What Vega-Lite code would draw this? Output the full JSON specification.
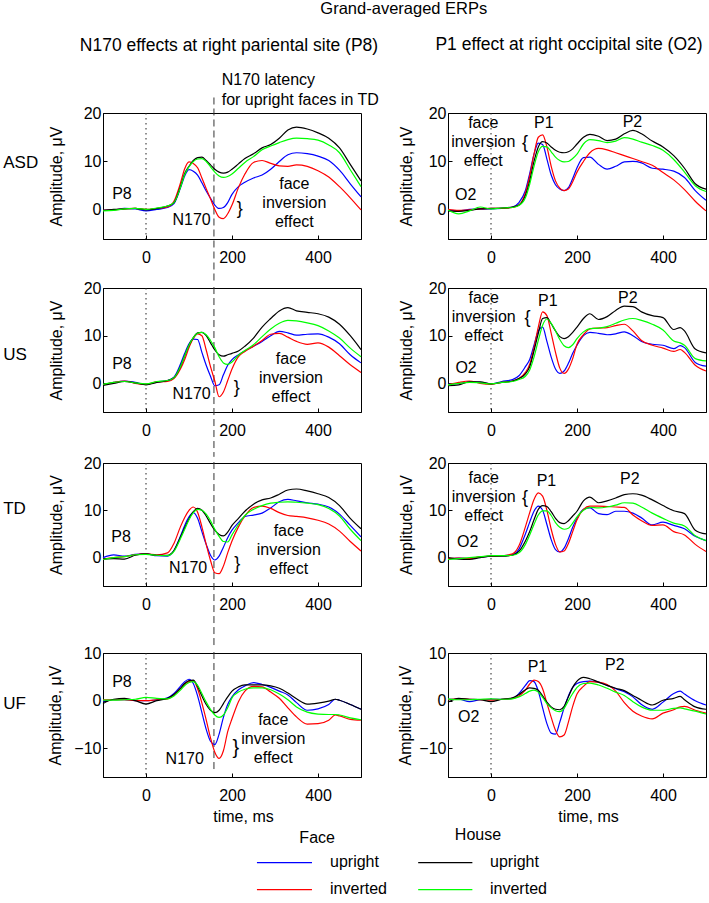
{
"$schema": "https://vega.github.io/schema/vega-lite/v6.json",
"padding": {"left": 2, "top": 0, "right": 0, "bottom": 0},
"background": "white",
"title": {"text": "Grand-averaged ERPs", "fontSize": 16.5, "anchor": "middle", "dx": 48, "offset": 18},
"datasets": {"erp": [
{"p":"ASDL","t":-100,"fu":-0.1,"fi":-0.1,"hu":-0.1,"hi":-0.2},
{"p":"ASDL","t":-75,"fu":0.0,"fi":0.0,"hu":0.1,"hi":-0.1},
{"p":"ASDL","t":-50,"fu":0.3,"fi":0.2,"hu":0.2,"hi":0.2},
{"p":"ASDL","t":-25,"fu":0.2,"fi":0.3,"hu":0.3,"hi":0.3},
{"p":"ASDL","t":0,"fu":-0.2,"fi":0.1,"hu":0.0,"hi":0.1},
{"p":"ASDL","t":25,"fu":0.1,"fi":0.3,"hu":0.3,"hi":0.4},
{"p":"ASDL","t":50,"fu":0.5,"fi":0.6,"hu":0.8,"hi":0.8},
{"p":"ASDL","t":65,"fu":1.3,"fi":1.8,"hu":1.5,"hi":1.5},
{"p":"ASDL","t":80,"fu":4.5,"fi":5.5,"hu":4.8,"hi":4.6},
{"p":"ASDL","t":90,"fu":7.0,"fi":8.5,"hu":7.5,"hi":7.3},
{"p":"ASDL","t":100,"fu":8.3,"fi":9.9,"hu":9.0,"hi":8.9},
{"p":"ASDL","t":110,"fu":8.0,"fi":9.6,"hu":10.2,"hi":10.0},
{"p":"ASDL","t":120,"fu":7.2,"fi":8.7,"hu":10.8,"hi":10.5},
{"p":"ASDL","t":130,"fu":5.6,"fi":6.6,"hu":10.9,"hi":10.6},
{"p":"ASDL","t":140,"fu":3.9,"fi":4.4,"hu":10.2,"hi":10.0},
{"p":"ASDL","t":150,"fu":2.4,"fi":2.3,"hu":9.3,"hi":8.9},
{"p":"ASDL","t":160,"fu":1.0,"fi":0.1,"hu":8.4,"hi":7.8},
{"p":"ASDL","t":170,"fu":0.3,"fi":-1.5,"hu":7.8,"hi":7.0},
{"p":"ASDL","t":180,"fu":0.5,"fi":-1.8,"hu":7.6,"hi":6.7},
{"p":"ASDL","t":190,"fu":1.5,"fi":-0.8,"hu":7.8,"hi":6.9},
{"p":"ASDL","t":200,"fu":3.2,"fi":1.0,"hu":8.4,"hi":7.4},
{"p":"ASDL","t":215,"fu":4.8,"fi":4.6,"hu":9.5,"hi":8.6},
{"p":"ASDL","t":230,"fu":5.7,"fi":7.4,"hu":10.6,"hi":9.8},
{"p":"ASDL","t":250,"fu":6.6,"fi":9.8,"hu":11.6,"hi":11.0},
{"p":"ASDL","t":270,"fu":7.2,"fi":10.2,"hu":12.8,"hi":12.4},
{"p":"ASDL","t":290,"fu":8.4,"fi":9.6,"hu":13.5,"hi":13.2},
{"p":"ASDL","t":310,"fu":10.0,"fi":9.1,"hu":14.8,"hi":13.9},
{"p":"ASDL","t":330,"fu":11.4,"fi":9.0,"hu":16.5,"hi":14.5},
{"p":"ASDL","t":350,"fu":11.8,"fi":9.3,"hu":17.1,"hi":14.8},
{"p":"ASDL","t":375,"fu":11.6,"fi":9.0,"hu":16.7,"hi":14.7},
{"p":"ASDL","t":400,"fu":11.1,"fi":8.1,"hu":15.9,"hi":14.4},
{"p":"ASDL","t":425,"fu":10.2,"fi":6.8,"hu":14.8,"hi":13.4},
{"p":"ASDL","t":450,"fu":8.2,"fi":4.8,"hu":12.8,"hi":11.8},
{"p":"ASDL","t":475,"fu":5.4,"fi":2.5,"hu":9.4,"hi":8.3},
{"p":"ASDL","t":500,"fu":2.7,"fi":0.0,"hu":6.0,"hi":4.8},
{"p":"ASDR","t":-100,"fu":0.0,"fi":0.1,"hu":-0.2,"hi":0.0},
{"p":"ASDR","t":-75,"fu":-0.2,"fi":-0.1,"hu":-0.3,"hi":-0.8},
{"p":"ASDR","t":-50,"fu":0.1,"fi":0.0,"hu":-0.1,"hi":-0.2},
{"p":"ASDR","t":-25,"fu":0.2,"fi":0.2,"hu":0.2,"hi":0.6},
{"p":"ASDR","t":0,"fu":0.2,"fi":0.3,"hu":0.3,"hi":0.2},
{"p":"ASDR","t":25,"fu":0.3,"fi":0.3,"hu":0.4,"hi":0.4},
{"p":"ASDR","t":50,"fu":0.6,"fi":0.5,"hu":0.6,"hi":0.5},
{"p":"ASDR","t":65,"fu":1.5,"fi":1.0,"hu":1.0,"hi":0.9},
{"p":"ASDR","t":80,"fu":4.0,"fi":3.5,"hu":3.0,"hi":2.5},
{"p":"ASDR","t":90,"fu":7.5,"fi":7.0,"hu":6.0,"hi":5.3},
{"p":"ASDR","t":100,"fu":11.5,"fi":11.5,"hu":10.0,"hi":9.0},
{"p":"ASDR","t":110,"fu":13.8,"fi":15.0,"hu":13.0,"hi":12.0},
{"p":"ASDR","t":120,"fu":13.5,"fi":15.5,"hu":14.1,"hi":13.1},
{"p":"ASDR","t":130,"fu":10.5,"fi":13.0,"hu":13.8,"hi":13.0},
{"p":"ASDR","t":140,"fu":7.2,"fi":9.0,"hu":13.0,"hi":12.0},
{"p":"ASDR","t":150,"fu":5.2,"fi":6.0,"hu":12.3,"hi":10.9},
{"p":"ASDR","t":160,"fu":4.3,"fi":4.5,"hu":11.9,"hi":10.2},
{"p":"ASDR","t":170,"fu":4.0,"fi":4.0,"hu":11.8,"hi":9.9},
{"p":"ASDR","t":180,"fu":4.6,"fi":4.3,"hu":12.0,"hi":10.0},
{"p":"ASDR","t":190,"fu":6.5,"fi":5.8,"hu":12.6,"hi":10.6},
{"p":"ASDR","t":200,"fu":8.7,"fi":7.8,"hu":13.6,"hi":11.5},
{"p":"ASDR","t":215,"fu":10.8,"fi":10.0,"hu":15.0,"hi":13.6},
{"p":"ASDR","t":230,"fu":10.9,"fi":11.8,"hu":15.6,"hi":14.5},
{"p":"ASDR","t":250,"fu":9.4,"fi":12.7,"hu":15.2,"hi":14.3},
{"p":"ASDR","t":270,"fu":8.4,"fi":12.4,"hu":14.3,"hi":13.9},
{"p":"ASDR","t":290,"fu":9.0,"fi":11.8,"hu":14.6,"hi":14.2},
{"p":"ASDR","t":310,"fu":9.9,"fi":11.2,"hu":15.7,"hi":14.9},
{"p":"ASDR","t":330,"fu":10.0,"fi":10.6,"hu":16.4,"hi":14.6},
{"p":"ASDR","t":350,"fu":9.7,"fi":10.0,"hu":15.7,"hi":14.0},
{"p":"ASDR","t":375,"fu":8.6,"fi":9.2,"hu":14.2,"hi":13.3},
{"p":"ASDR","t":400,"fu":8.4,"fi":7.7,"hu":13.0,"hi":12.3},
{"p":"ASDR","t":425,"fu":8.0,"fi":6.2,"hu":11.2,"hi":10.4},
{"p":"ASDR","t":450,"fu":6.7,"fi":4.2,"hu":8.6,"hi":7.8},
{"p":"ASDR","t":475,"fu":4.0,"fi":1.8,"hu":5.4,"hi":5.0},
{"p":"ASDR","t":500,"fu":2.0,"fi":-0.2,"hu":4.3,"hi":3.8},
{"p":"USL","t":-100,"fu":-0.3,"fi":-0.3,"hu":-0.4,"hi":-0.2},
{"p":"USL","t":-75,"fu":0.2,"fi":0.2,"hu":0.0,"hi":0.2},
{"p":"USL","t":-50,"fu":0.5,"fi":0.5,"hu":0.4,"hi":0.4},
{"p":"USL","t":-25,"fu":0.2,"fi":0.0,"hu":0.1,"hi":0.1},
{"p":"USL","t":0,"fu":-0.2,"fi":-0.2,"hu":-0.3,"hi":-0.1},
{"p":"USL","t":25,"fu":0.3,"fi":0.3,"hu":0.2,"hi":0.4},
{"p":"USL","t":50,"fu":0.6,"fi":0.4,"hu":0.6,"hi":0.6},
{"p":"USL","t":65,"fu":1.3,"fi":1.0,"hu":1.2,"hi":1.2},
{"p":"USL","t":80,"fu":4.0,"fi":3.0,"hu":3.5,"hi":3.5},
{"p":"USL","t":90,"fu":6.3,"fi":5.0,"hu":5.8,"hi":5.8},
{"p":"USL","t":100,"fu":8.3,"fi":7.5,"hu":8.0,"hi":8.0},
{"p":"USL","t":110,"fu":9.3,"fi":9.4,"hu":9.6,"hi":9.6},
{"p":"USL","t":120,"fu":9.2,"fi":10.4,"hu":10.6,"hi":10.5},
{"p":"USL","t":130,"fu":6.5,"fi":10.0,"hu":10.7,"hi":10.7},
{"p":"USL","t":140,"fu":3.8,"fi":7.0,"hu":10.0,"hi":10.2},
{"p":"USL","t":150,"fu":1.5,"fi":3.5,"hu":8.5,"hi":9.0},
{"p":"USL","t":160,"fu":-0.5,"fi":0.5,"hu":7.0,"hi":7.5},
{"p":"USL","t":170,"fu":-0.3,"fi":-2.8,"hu":6.0,"hi":5.6},
{"p":"USL","t":180,"fu":1.8,"fi":-1.8,"hu":5.7,"hi":4.3},
{"p":"USL","t":190,"fu":3.8,"fi":0.6,"hu":6.0,"hi":4.0},
{"p":"USL","t":200,"fu":5.0,"fi":3.0,"hu":6.3,"hi":4.5},
{"p":"USL","t":215,"fu":6.0,"fi":5.6,"hu":6.8,"hi":5.9},
{"p":"USL","t":230,"fu":6.8,"fi":6.7,"hu":7.8,"hi":6.9},
{"p":"USL","t":250,"fu":7.8,"fi":7.8,"hu":9.5,"hi":8.1},
{"p":"USL","t":270,"fu":8.8,"fi":9.0,"hu":11.8,"hi":9.8},
{"p":"USL","t":290,"fu":10.0,"fi":10.3,"hu":13.6,"hi":11.4},
{"p":"USL","t":310,"fu":10.9,"fi":10.5,"hu":15.2,"hi":12.6},
{"p":"USL","t":330,"fu":10.6,"fi":9.7,"hu":15.9,"hi":13.2},
{"p":"USL","t":350,"fu":10.1,"fi":8.8,"hu":15.2,"hi":13.1},
{"p":"USL","t":375,"fu":10.3,"fi":8.2,"hu":14.9,"hi":12.7},
{"p":"USL","t":400,"fu":10.4,"fi":8.5,"hu":14.6,"hi":12.1},
{"p":"USL","t":425,"fu":9.7,"fi":7.6,"hu":13.9,"hi":11.0},
{"p":"USL","t":450,"fu":8.3,"fi":5.8,"hu":12.4,"hi":9.5},
{"p":"USL","t":475,"fu":6.0,"fi":3.9,"hu":10.0,"hi":7.4},
{"p":"USL","t":500,"fu":4.3,"fi":2.3,"hu":7.1,"hi":5.6},
{"p":"USR","t":-100,"fu":-0.2,"fi":-0.3,"hu":-0.5,"hi":-0.3},
{"p":"USR","t":-75,"fu":0.0,"fi":0.2,"hu":-0.3,"hi":0.0},
{"p":"USR","t":-50,"fu":0.3,"fi":0.5,"hu":0.3,"hi":0.2},
{"p":"USR","t":-25,"fu":0.2,"fi":0.0,"hu":0.3,"hi":0.1},
{"p":"USR","t":0,"fu":-0.1,"fi":-0.2,"hu":-0.1,"hi":-0.1},
{"p":"USR","t":25,"fu":0.4,"fi":0.2,"hu":0.2,"hi":0.2},
{"p":"USR","t":50,"fu":0.8,"fi":0.5,"hu":0.5,"hi":0.4},
{"p":"USR","t":65,"fu":1.6,"fi":1.0,"hu":1.0,"hi":0.8},
{"p":"USR","t":80,"fu":3.5,"fi":2.3,"hu":2.0,"hi":1.5},
{"p":"USR","t":90,"fu":5.0,"fi":4.0,"hu":3.5,"hi":2.8},
{"p":"USR","t":100,"fu":8.0,"fi":7.5,"hu":6.8,"hi":5.5},
{"p":"USR","t":110,"fu":11.0,"fi":11.8,"hu":10.5,"hi":9.0},
{"p":"USR","t":120,"fu":11.8,"fi":15.0,"hu":13.6,"hi":12.2},
{"p":"USR","t":130,"fu":8.8,"fi":14.2,"hu":13.8,"hi":13.5},
{"p":"USR","t":140,"fu":5.5,"fi":10.5,"hu":12.5,"hi":12.6},
{"p":"USR","t":150,"fu":3.0,"fi":6.5,"hu":11.0,"hi":11.0},
{"p":"USR","t":160,"fu":2.1,"fi":3.2,"hu":9.8,"hi":9.2},
{"p":"USR","t":170,"fu":2.6,"fi":2.1,"hu":9.4,"hi":7.9},
{"p":"USR","t":180,"fu":4.2,"fi":3.0,"hu":9.8,"hi":7.5},
{"p":"USR","t":190,"fu":6.3,"fi":5.2,"hu":10.7,"hi":8.1},
{"p":"USR","t":200,"fu":8.0,"fi":8.2,"hu":11.8,"hi":9.4},
{"p":"USR","t":215,"fu":10.0,"fi":10.2,"hu":13.6,"hi":10.8},
{"p":"USR","t":230,"fu":10.7,"fi":11.4,"hu":14.6,"hi":11.5},
{"p":"USR","t":250,"fu":10.5,"fi":11.6,"hu":13.4,"hi":11.6},
{"p":"USR","t":270,"fu":10.2,"fi":11.7,"hu":14.0,"hi":11.9},
{"p":"USR","t":290,"fu":10.4,"fi":12.1,"hu":15.3,"hi":12.6},
{"p":"USR","t":310,"fu":10.8,"fi":12.4,"hu":16.2,"hi":13.3},
{"p":"USR","t":330,"fu":10.0,"fi":11.0,"hu":16.1,"hi":13.6},
{"p":"USR","t":350,"fu":8.8,"fi":9.0,"hu":15.0,"hi":13.2},
{"p":"USR","t":375,"fu":8.2,"fi":8.0,"hu":14.2,"hi":12.4},
{"p":"USR","t":400,"fu":8.0,"fi":7.4,"hu":13.8,"hi":11.2},
{"p":"USR","t":425,"fu":7.3,"fi":6.7,"hu":11.3,"hi":8.9},
{"p":"USR","t":440,"fu":7.9,"fi":7.1,"hu":11.7,"hi":8.5},
{"p":"USR","t":450,"fu":7.5,"fi":6.5,"hu":11.0,"hi":8.0},
{"p":"USR","t":475,"fu":4.4,"fi":3.8,"hu":7.2,"hi":5.2},
{"p":"USR","t":500,"fu":3.6,"fi":2.6,"hu":6.4,"hi":4.7},
{"p":"TDL","t":-100,"fu":0.0,"fi":-0.3,"hu":-0.3,"hi":-0.4},
{"p":"TDL","t":-75,"fu":0.6,"fi":0.0,"hu":-0.2,"hi":0.0},
{"p":"TDL","t":-50,"fu":0.3,"fi":0.2,"hu":-0.3,"hi":0.2},
{"p":"TDL","t":-25,"fu":0.7,"fi":0.6,"hu":0.5,"hi":0.6},
{"p":"TDL","t":0,"fu":0.8,"fi":0.8,"hu":0.8,"hi":0.7},
{"p":"TDL","t":25,"fu":0.4,"fi":0.6,"hu":0.5,"hi":0.5},
{"p":"TDL","t":50,"fu":0.3,"fi":1.0,"hu":0.5,"hi":0.4},
{"p":"TDL","t":65,"fu":1.5,"fi":3.0,"hu":1.5,"hi":1.3},
{"p":"TDL","t":80,"fu":4.5,"fi":6.5,"hu":4.3,"hi":4.0},
{"p":"TDL","t":90,"fu":6.8,"fi":8.5,"hu":6.3,"hi":6.0},
{"p":"TDL","t":100,"fu":8.6,"fi":10.0,"hu":8.2,"hi":8.0},
{"p":"TDL","t":110,"fu":9.5,"fi":10.7,"hu":9.7,"hi":9.5},
{"p":"TDL","t":120,"fu":8.3,"fi":9.6,"hu":10.4,"hi":10.2},
{"p":"TDL","t":130,"fu":5.5,"fi":6.5,"hu":10.0,"hi":10.0},
{"p":"TDL","t":140,"fu":2.8,"fi":2.8,"hu":8.8,"hi":9.2},
{"p":"TDL","t":150,"fu":0.5,"fi":-0.6,"hu":7.2,"hi":7.8},
{"p":"TDL","t":160,"fu":-0.5,"fi":-3.2,"hu":5.8,"hi":6.0},
{"p":"TDL","t":170,"fu":0.3,"fi":-3.4,"hu":4.9,"hi":4.5},
{"p":"TDL","t":180,"fu":2.2,"fi":-1.8,"hu":4.6,"hi":3.4},
{"p":"TDL","t":190,"fu":4.2,"fi":1.0,"hu":5.4,"hi":3.3},
{"p":"TDL","t":200,"fu":5.8,"fi":3.5,"hu":6.8,"hi":4.8},
{"p":"TDL","t":215,"fu":7.4,"fi":6.5,"hu":8.3,"hi":7.0},
{"p":"TDL","t":230,"fu":8.7,"fi":8.8,"hu":9.8,"hi":8.9},
{"p":"TDL","t":250,"fu":9.0,"fi":10.6,"hu":11.3,"hi":10.2},
{"p":"TDL","t":270,"fu":9.4,"fi":10.9,"hu":12.2,"hi":11.0},
{"p":"TDL","t":290,"fu":10.5,"fi":10.4,"hu":12.6,"hi":11.5},
{"p":"TDL","t":310,"fu":11.8,"fi":9.5,"hu":13.4,"hi":11.7},
{"p":"TDL","t":330,"fu":12.3,"fi":8.9,"hu":14.3,"hi":11.8},
{"p":"TDL","t":350,"fu":12.0,"fi":8.7,"hu":14.5,"hi":11.7},
{"p":"TDL","t":375,"fu":11.6,"fi":8.4,"hu":14.1,"hi":11.5},
{"p":"TDL","t":400,"fu":11.3,"fi":7.9,"hu":13.5,"hi":11.2},
{"p":"TDL","t":425,"fu":10.7,"fi":7.1,"hu":12.7,"hi":10.4},
{"p":"TDL","t":450,"fu":9.2,"fi":5.6,"hu":11.0,"hi":8.8},
{"p":"TDL","t":475,"fu":6.8,"fi":3.4,"hu":8.3,"hi":6.0},
{"p":"TDL","t":500,"fu":4.4,"fi":1.4,"hu":6.1,"hi":3.6},
{"p":"TDR","t":-100,"fu":-0.3,"fi":-0.2,"hu":0.0,"hi":-0.4},
{"p":"TDR","t":-75,"fu":-0.1,"fi":-0.1,"hu":-0.3,"hi":-0.2},
{"p":"TDR","t":-50,"fu":-0.2,"fi":-0.2,"hu":-0.4,"hi":0.0},
{"p":"TDR","t":-25,"fu":0.1,"fi":0.2,"hu":0.0,"hi":0.2},
{"p":"TDR","t":0,"fu":0.3,"fi":0.3,"hu":0.3,"hi":0.4},
{"p":"TDR","t":25,"fu":0.4,"fi":0.4,"hu":0.3,"hi":0.4},
{"p":"TDR","t":50,"fu":0.6,"fi":0.8,"hu":0.5,"hi":0.5},
{"p":"TDR","t":65,"fu":1.8,"fi":2.5,"hu":1.3,"hi":1.0},
{"p":"TDR","t":80,"fu":5.0,"fi":6.5,"hu":3.5,"hi":2.8},
{"p":"TDR","t":90,"fu":7.5,"fi":9.5,"hu":5.5,"hi":4.8},
{"p":"TDR","t":100,"fu":9.8,"fi":12.3,"hu":8.0,"hi":7.0},
{"p":"TDR","t":110,"fu":10.9,"fi":13.7,"hu":10.2,"hi":9.0},
{"p":"TDR","t":120,"fu":10.0,"fi":13.0,"hu":11.0,"hi":9.9},
{"p":"TDR","t":130,"fu":7.0,"fi":10.0,"hu":10.8,"hi":9.9},
{"p":"TDR","t":140,"fu":3.8,"fi":6.0,"hu":9.7,"hi":8.9},
{"p":"TDR","t":150,"fu":1.7,"fi":2.8,"hu":8.3,"hi":7.4},
{"p":"TDR","t":160,"fu":1.2,"fi":1.2,"hu":7.4,"hi":6.4},
{"p":"TDR","t":170,"fu":2.0,"fi":1.4,"hu":7.2,"hi":6.0},
{"p":"TDR","t":180,"fu":4.0,"fi":3.0,"hu":7.8,"hi":6.2},
{"p":"TDR","t":190,"fu":6.4,"fi":5.5,"hu":8.8,"hi":7.3},
{"p":"TDR","t":200,"fu":8.3,"fi":8.0,"hu":9.8,"hi":8.6},
{"p":"TDR","t":215,"fu":10.2,"fi":10.2,"hu":12.0,"hi":10.0},
{"p":"TDR","t":230,"fu":10.5,"fi":10.9,"hu":12.8,"hi":10.6},
{"p":"TDR","t":250,"fu":9.3,"fi":10.9,"hu":11.6,"hi":10.5},
{"p":"TDR","t":270,"fu":9.1,"fi":10.8,"hu":12.0,"hi":10.7},
{"p":"TDR","t":290,"fu":9.8,"fi":10.7,"hu":12.6,"hi":11.1},
{"p":"TDR","t":310,"fu":9.8,"fi":10.6,"hu":13.3,"hi":11.6},
{"p":"TDR","t":330,"fu":9.4,"fi":9.0,"hu":13.5,"hi":11.5},
{"p":"TDR","t":350,"fu":8.4,"fi":7.8,"hu":13.2,"hi":10.7},
{"p":"TDR","t":375,"fu":6.9,"fi":6.8,"hu":12.2,"hi":9.4},
{"p":"TDR","t":400,"fu":7.5,"fi":6.9,"hu":11.0,"hi":8.3},
{"p":"TDR","t":425,"fu":6.8,"fi":5.5,"hu":9.9,"hi":7.3},
{"p":"TDR","t":450,"fu":6.1,"fi":4.8,"hu":9.3,"hi":6.7},
{"p":"TDR","t":475,"fu":4.5,"fi":2.8,"hu":5.8,"hi":4.6},
{"p":"TDR","t":500,"fu":3.6,"fi":1.3,"hu":5.0,"hi":3.6},
{"p":"UFL","t":-100,"fu":-0.1,"fi":0.2,"hu":-0.6,"hi":0.1},
{"p":"UFL","t":-75,"fu":0.2,"fi":0.2,"hu":0.3,"hi":0.1},
{"p":"UFL","t":-50,"fu":0.2,"fi":0.2,"hu":0.5,"hi":0.2},
{"p":"UFL","t":-25,"fu":0.0,"fi":0.0,"hu":0.0,"hi":0.3},
{"p":"UFL","t":0,"fu":0.0,"fi":0.0,"hu":-0.7,"hi":0.7},
{"p":"UFL","t":25,"fu":0.2,"fi":0.2,"hu":0.0,"hi":0.5},
{"p":"UFL","t":50,"fu":0.6,"fi":0.4,"hu":0.5,"hi":0.4},
{"p":"UFL","t":65,"fu":1.5,"fi":1.2,"hu":1.3,"hi":1.0},
{"p":"UFL","t":80,"fu":3.0,"fi":2.5,"hu":2.6,"hi":2.2},
{"p":"UFL","t":90,"fu":4.0,"fi":3.5,"hu":3.6,"hi":3.2},
{"p":"UFL","t":100,"fu":4.5,"fi":4.0,"hu":4.2,"hi":3.8},
{"p":"UFL","t":110,"fu":3.6,"fi":4.2,"hu":4.3,"hi":4.0},
{"p":"UFL","t":120,"fu":1.0,"fi":2.5,"hu":3.0,"hi":3.2},
{"p":"UFL","t":130,"fu":-2.5,"fi":-0.5,"hu":1.0,"hi":1.5},
{"p":"UFL","t":140,"fu":-6.0,"fi":-4.0,"hu":-0.8,"hi":-0.3},
{"p":"UFL","t":150,"fu":-8.5,"fi":-7.8,"hu":-2.0,"hi":-1.8},
{"p":"UFL","t":160,"fu":-9.2,"fi":-10.8,"hu":-2.5,"hi":-3.0},
{"p":"UFL","t":170,"fu":-7.0,"fi":-12.1,"hu":-2.0,"hi":-3.5},
{"p":"UFL","t":180,"fu":-3.5,"fi":-10.5,"hu":-0.6,"hi":-3.0},
{"p":"UFL","t":190,"fu":-0.8,"fi":-6.5,"hu":0.8,"hi":-1.5},
{"p":"UFL","t":200,"fu":0.8,"fi":-3.8,"hu":2.0,"hi":0.6},
{"p":"UFL","t":215,"fu":2.3,"fi":-0.2,"hu":2.9,"hi":1.8},
{"p":"UFL","t":230,"fu":3.1,"fi":2.0,"hu":3.3,"hi":2.4},
{"p":"UFL","t":250,"fu":3.8,"fi":3.0,"hu":3.3,"hi":2.7},
{"p":"UFL","t":270,"fu":3.4,"fi":2.9,"hu":3.3,"hi":2.7},
{"p":"UFL","t":290,"fu":2.8,"fi":1.8,"hu":3.1,"hi":2.3},
{"p":"UFL","t":310,"fu":2.0,"fi":0.5,"hu":2.6,"hi":1.4},
{"p":"UFL","t":330,"fu":1.2,"fi":-1.5,"hu":1.6,"hi":0.2},
{"p":"UFL","t":350,"fu":-0.4,"fi":-3.4,"hu":0.4,"hi":-1.3},
{"p":"UFL","t":375,"fu":-2.0,"fi":-4.9,"hu":-0.7,"hi":-2.4},
{"p":"UFL","t":400,"fu":-1.7,"fi":-4.8,"hu":-0.5,"hi":-2.8},
{"p":"UFL","t":425,"fu":-0.8,"fi":-4.1,"hu":-0.1,"hi":-2.9},
{"p":"UFL","t":440,"fu":0.3,"fi":-3.0,"hu":0.3,"hi":-2.9},
{"p":"UFL","t":450,"fu":0.1,"fi":-3.2,"hu":0.1,"hi":-3.0},
{"p":"UFL","t":475,"fu":-0.8,"fi":-3.9,"hu":-0.8,"hi":-3.6},
{"p":"UFL","t":500,"fu":-1.8,"fi":-4.1,"hu":-1.8,"hi":-4.0},
{"p":"UFR","t":-100,"fu":0.3,"fi":0.2,"hu":-0.3,"hi":0.4},
{"p":"UFR","t":-75,"fu":0.3,"fi":0.4,"hu":0.5,"hi":0.2},
{"p":"UFR","t":-50,"fu":-0.2,"fi":0.3,"hu":0.3,"hi":0.2},
{"p":"UFR","t":-25,"fu":0.2,"fi":0.2,"hu":0.2,"hi":0.3},
{"p":"UFR","t":0,"fu":0.3,"fi":0.1,"hu":-0.2,"hi":0.4},
{"p":"UFR","t":25,"fu":0.3,"fi":0.3,"hu":0.3,"hi":0.3},
{"p":"UFR","t":50,"fu":0.5,"fi":0.5,"hu":0.6,"hi":0.4},
{"p":"UFR","t":65,"fu":1.5,"fi":1.0,"hu":1.3,"hi":0.8},
{"p":"UFR","t":80,"fu":3.2,"fi":2.2,"hu":2.3,"hi":1.5},
{"p":"UFR","t":90,"fu":4.2,"fi":3.5,"hu":2.7,"hi":2.0},
{"p":"UFR","t":100,"fu":4.0,"fi":4.3,"hu":2.6,"hi":2.2},
{"p":"UFR","t":110,"fu":2.0,"fi":4.0,"hu":2.2,"hi":1.8},
{"p":"UFR","t":120,"fu":-1.5,"fi":2.5,"hu":1.0,"hi":0.7},
{"p":"UFR","t":130,"fu":-4.8,"fi":-0.5,"hu":-0.3,"hi":-0.6},
{"p":"UFR","t":140,"fu":-6.8,"fi":-3.5,"hu":-1.3,"hi":-1.5},
{"p":"UFR","t":150,"fu":-7.0,"fi":-6.2,"hu":-1.8,"hi":-2.1},
{"p":"UFR","t":160,"fu":-4.5,"fi":-7.6,"hu":-1.9,"hi":-2.3},
{"p":"UFR","t":170,"fu":-1.5,"fi":-7.2,"hu":-1.2,"hi":-1.6},
{"p":"UFR","t":180,"fu":1.0,"fi":-4.5,"hu":0.8,"hi":0.0},
{"p":"UFR","t":190,"fu":2.8,"fi":-1.2,"hu":2.8,"hi":1.5},
{"p":"UFR","t":200,"fu":3.6,"fi":1.4,"hu":4.1,"hi":2.8},
{"p":"UFR","t":215,"fu":4.0,"fi":3.0,"hu":4.9,"hi":3.6},
{"p":"UFR","t":230,"fu":4.1,"fi":4.0,"hu":4.6,"hi":3.7},
{"p":"UFR","t":250,"fu":3.9,"fi":3.9,"hu":3.9,"hi":3.3},
{"p":"UFR","t":270,"fu":3.2,"fi":3.4,"hu":3.2,"hi":2.6},
{"p":"UFR","t":290,"fu":2.5,"fi":2.0,"hu":2.6,"hi":1.8},
{"p":"UFR","t":310,"fu":1.9,"fi":-0.4,"hu":2.1,"hi":1.1},
{"p":"UFR","t":330,"fu":0.8,"fi":-2.2,"hu":1.1,"hi":-0.2},
{"p":"UFR","t":350,"fu":-0.8,"fi":-3.2,"hu":0.1,"hi":-1.3},
{"p":"UFR","t":375,"fu":-1.8,"fi":-3.8,"hu":-0.9,"hi":-2.0},
{"p":"UFR","t":400,"fu":-0.3,"fi":-2.6,"hu":0.1,"hi":-2.0},
{"p":"UFR","t":425,"fu":1.5,"fi":-1.9,"hu":0.5,"hi":-1.6},
{"p":"UFR","t":440,"fu":2.0,"fi":-1.3,"hu":0.9,"hi":-1.5},
{"p":"UFR","t":450,"fu":1.4,"fi":-1.2,"hu":0.2,"hi":-1.7},
{"p":"UFR","t":475,"fu":0.0,"fi":-2.0,"hu":-1.3,"hi":-2.2},
{"p":"UFR","t":500,"fu":-0.9,"fi":-2.6,"hu":-1.8,"hi":-2.8}
]},
"columns": 2,
"spacing": {"row": 10, "column": 87},
"bounds": "flush",
"align": "each",
"concat": [
{"width": 258, "height": 126,
 "title": {"text": "N170 effects at right pariental site (P8)", "fontSize": 17.5, "frame": "group", "offset": 18, "dx": -3},
 "layer": [
  {"data": {"values": [{}]}, "mark": {"type": "rule", "strokeDash": [1.5, 3.5], "color": "#222"}, "encoding": {"x": {"datum": 0}}},
  {"data": {"values": [{}]}, "mark": {"type": "rule", "strokeDash": [7, 4], "color": "#333"}, "encoding": {"x": {"datum": 158}, "y": {"datum": 23.2}, "y2": {"datum": -14.8}}},
  {"data": {"name": "erp"}, "transform": [{"filter": "datum.p === 'ASDL'"}, {"fold": ["fu", "fi", "hu", "hi"], "as": ["s", "v"]}],
   "mark": {"type": "line", "strokeWidth": 1.2, "interpolate": "monotone"},
   "encoding": {
    "x": {"field": "t", "type": "quantitative", "scale": {"domain": [-100, 500]}, "axis": {"values": [0, 200, 400], "title": null}},
    "y": {"field": "v", "type": "quantitative", "scale": {"domain": [-5, 20]}, "axis": {"values": [0, 10, 20], "title": "Amplitude, μV", "titlePadding": 19}},
    "color": {"field": "s", "type": "nominal", "scale": {"domain": ["fu", "fi", "hu", "hi"], "range": ["#0000ff", "#ff0000", "#000000", "#00ff00"]}, "legend": null}}},
  {"data": {"values": [{}]}, "mark": {"type": "text", "text": "ASD", "align": "left", "fontSize": 17}, "encoding": {"x": {"datum": -332}, "y": {"datum": 9.7}}},
  {"data": {"values": [{}]}, "mark": {"type": "text", "text": "P8"}, "encoding": {"x": {"datum": -56}, "y": {"datum": 3.3}}},
  {"data": {"values": [{}]}, "mark": {"type": "text", "text": "N170"}, "encoding": {"x": {"datum": 106}, "y": {"datum": -2.0}}},
  {"data": {"values": [{}]}, "mark": {"type": "text", "text": "}", "fontSize": 18}, "encoding": {"x": {"datum": 218}, "y": {"datum": 0.1}}},
  {"data": {"values": [{}]}, "mark": {"type": "text", "text": ["face", "inversion", "effect"], "lineHeight": 19}, "encoding": {"x": {"datum": 345}, "y": {"datum": 5.3}}},
  {"data": {"values": [{}]}, "mark": {"type": "text", "text": ["N170 latency", "for upright faces in TD"], "lineHeight": 20, "align": "left"}, "encoding": {"x": {"datum": 176}, "y": {"datum": 26.8}}}
 ]},
{"width": 258, "height": 126,
 "title": {"text": "P1 effect at right occipital site (O2)", "fontSize": 17.5, "frame": "group", "offset": 52, "dx": -8},
 "layer": [
  {"data": {"values": [{}]}, "mark": {"type": "rule", "strokeDash": [1.5, 3.5], "color": "#222"}, "encoding": {"x": {"datum": 0}}},
  {"data": {"name": "erp"}, "transform": [{"filter": "datum.p === 'ASDR'"}, {"fold": ["fu", "fi", "hu", "hi"], "as": ["s", "v"]}],
   "mark": {"type": "line", "strokeWidth": 1.2, "interpolate": "monotone"},
   "encoding": {
    "x": {"field": "t", "type": "quantitative", "scale": {"domain": [-100, 500]}, "axis": {"values": [0, 200, 400], "title": null}},
    "y": {"field": "v", "type": "quantitative", "scale": {"domain": [-5, 20]}, "axis": {"values": [0, 10, 20], "title": "Amplitude, μV", "titlePadding": 14}},
    "color": {"field": "s", "type": "nominal", "scale": {"domain": ["fu", "fi", "hu", "hi"], "range": ["#0000ff", "#ff0000", "#000000", "#00ff00"]}, "legend": null}}},
  {"data": {"values": [{}]}, "mark": {"type": "text", "text": ["face", "inversion", "effect"], "lineHeight": 19}, "encoding": {"x": {"datum": -18}, "y": {"datum": 17.9}}},
  {"data": {"values": [{}]}, "mark": {"type": "text", "text": "{", "fontSize": 18}, "encoding": {"x": {"datum": 79}, "y": {"datum": 13.9}}},
  {"data": {"values": [{}]}, "mark": {"type": "text", "text": "P1"}, "encoding": {"x": {"datum": 123}, "y": {"datum": 17.9}}},
  {"data": {"values": [{}]}, "mark": {"type": "text", "text": "P2"}, "encoding": {"x": {"datum": 329}, "y": {"datum": 18.1}}},
  {"data": {"values": [{}]}, "mark": {"type": "text", "text": "O2"}, "encoding": {"x": {"datum": -59}, "y": {"datum": 3.1}}}
 ]},
{"width": 1, "height": 29, "data": {"values": [{}]}, "mark": {"type": "text", "text": ""}, "view": {"stroke": null}},
{"width": 1, "height": 29, "data": {"values": [{}]}, "mark": {"type": "text", "text": ""}, "view": {"stroke": null}},
{"width": 258, "height": 124,
 "layer": [
  {"data": {"values": [{}]}, "mark": {"type": "rule", "strokeDash": [1.5, 3.5], "color": "#222"}, "encoding": {"x": {"datum": 0}}},
  {"data": {"values": [{}]}, "mark": {"type": "rule", "strokeDash": [7, 4], "color": "#333"}, "encoding": {"x": {"datum": 158}, "y": {"datum": 20.2}, "y2": {"datum": -15.4}}},
  {"data": {"name": "erp"}, "transform": [{"filter": "datum.p === 'USL'"}, {"fold": ["fu", "fi", "hu", "hi"], "as": ["s", "v"]}],
   "mark": {"type": "line", "strokeWidth": 1.2, "interpolate": "monotone"},
   "encoding": {
    "x": {"field": "t", "type": "quantitative", "scale": {"domain": [-100, 500]}, "axis": {"values": [0, 200, 400], "title": null}},
    "y": {"field": "v", "type": "quantitative", "scale": {"domain": [-5, 20]}, "axis": {"values": [0, 10, 20], "title": "Amplitude, μV", "titlePadding": 19}},
    "color": {"field": "s", "type": "nominal", "scale": {"domain": ["fu", "fi", "hu", "hi"], "range": ["#0000ff", "#ff0000", "#000000", "#00ff00"]}, "legend": null}}},
  {"data": {"values": [{}]}, "mark": {"type": "text", "text": "US", "align": "left", "fontSize": 17}, "encoding": {"x": {"datum": -332}, "y": {"datum": 5.9}}},
  {"data": {"values": [{}]}, "mark": {"type": "text", "text": "P8"}, "encoding": {"x": {"datum": -56}, "y": {"datum": 4.0}}},
  {"data": {"values": [{}]}, "mark": {"type": "text", "text": "N170"}, "encoding": {"x": {"datum": 106}, "y": {"datum": -2.2}}},
  {"data": {"values": [{}]}, "mark": {"type": "text", "text": "}", "fontSize": 18}, "encoding": {"x": {"datum": 211}, "y": {"datum": -0.9}}},
  {"data": {"values": [{}]}, "mark": {"type": "text", "text": ["face", "inversion", "effect"], "lineHeight": 19}, "encoding": {"x": {"datum": 337}, "y": {"datum": 5.1}}}
 ]},
{"width": 258, "height": 124,
 "layer": [
  {"data": {"values": [{}]}, "mark": {"type": "rule", "strokeDash": [1.5, 3.5], "color": "#222"}, "encoding": {"x": {"datum": 0}}},
  {"data": {"name": "erp"}, "transform": [{"filter": "datum.p === 'USR'"}, {"fold": ["fu", "fi", "hu", "hi"], "as": ["s", "v"]}],
   "mark": {"type": "line", "strokeWidth": 1.2, "interpolate": "monotone"},
   "encoding": {
    "x": {"field": "t", "type": "quantitative", "scale": {"domain": [-100, 500]}, "axis": {"values": [0, 200, 400], "title": null}},
    "y": {"field": "v", "type": "quantitative", "scale": {"domain": [-5, 20]}, "axis": {"values": [0, 10, 20], "title": "Amplitude, μV", "titlePadding": 14}},
    "color": {"field": "s", "type": "nominal", "scale": {"domain": ["fu", "fi", "hu", "hi"], "range": ["#0000ff", "#ff0000", "#000000", "#00ff00"]}, "legend": null}}},
  {"data": {"values": [{}]}, "mark": {"type": "text", "text": ["face", "inversion", "effect"], "lineHeight": 19}, "encoding": {"x": {"datum": -17}, "y": {"datum": 17.9}}},
  {"data": {"values": [{}]}, "mark": {"type": "text", "text": "{", "fontSize": 18}, "encoding": {"x": {"datum": 85}, "y": {"datum": 13.8}}},
  {"data": {"values": [{}]}, "mark": {"type": "text", "text": "P1"}, "encoding": {"x": {"datum": 132}, "y": {"datum": 17.2}}},
  {"data": {"values": [{}]}, "mark": {"type": "text", "text": "P2"}, "encoding": {"x": {"datum": 318}, "y": {"datum": 18.0}}},
  {"data": {"values": [{}]}, "mark": {"type": "text", "text": "O2"}, "encoding": {"x": {"datum": -58}, "y": {"datum": 3.3}}}
 ]},
{"width": 1, "height": 31, "data": {"values": [{}]}, "mark": {"type": "text", "text": ""}, "view": {"stroke": null}},
{"width": 1, "height": 31, "data": {"values": [{}]}, "mark": {"type": "text", "text": ""}, "view": {"stroke": null}},
{"width": 258, "height": 123,
 "layer": [
  {"data": {"values": [{}]}, "mark": {"type": "rule", "strokeDash": [1.5, 3.5], "color": "#222"}, "encoding": {"x": {"datum": 0}}},
  {"data": {"values": [{}]}, "mark": {"type": "rule", "strokeDash": [7, 4], "color": "#333"}, "encoding": {"x": {"datum": 158}, "y": {"datum": 20.2}, "y2": {"datum": -18.7}}},
  {"data": {"name": "erp"}, "transform": [{"filter": "datum.p === 'TDL'"}, {"fold": ["fu", "fi", "hu", "hi"], "as": ["s", "v"]}],
   "mark": {"type": "line", "strokeWidth": 1.2, "interpolate": "monotone"},
   "encoding": {
    "x": {"field": "t", "type": "quantitative", "scale": {"domain": [-100, 500]}, "axis": {"values": [0, 200, 400], "title": null}},
    "y": {"field": "v", "type": "quantitative", "scale": {"domain": [-5, 20]}, "axis": {"values": [0, 10, 20], "title": "Amplitude, μV", "titlePadding": 19}},
    "color": {"field": "s", "type": "nominal", "scale": {"domain": ["fu", "fi", "hu", "hi"], "range": ["#0000ff", "#ff0000", "#000000", "#00ff00"]}, "legend": null}}},
  {"data": {"values": [{}]}, "mark": {"type": "text", "text": "TD", "align": "left", "fontSize": 17}, "encoding": {"x": {"datum": -332}, "y": {"datum": 10.2}}},
  {"data": {"values": [{}]}, "mark": {"type": "text", "text": "P8"}, "encoding": {"x": {"datum": -58}, "y": {"datum": 4.3}}},
  {"data": {"values": [{}]}, "mark": {"type": "text", "text": "N170"}, "encoding": {"x": {"datum": 98}, "y": {"datum": -2.2}}},
  {"data": {"values": [{}]}, "mark": {"type": "text", "text": "}", "fontSize": 18}, "encoding": {"x": {"datum": 212}, "y": {"datum": -1.3}}},
  {"data": {"values": [{}]}, "mark": {"type": "text", "text": ["face", "inversion", "effect"], "lineHeight": 19}, "encoding": {"x": {"datum": 332}, "y": {"datum": 5.6}}}
 ]},
{"width": 258, "height": 123,
 "layer": [
  {"data": {"values": [{}]}, "mark": {"type": "rule", "strokeDash": [1.5, 3.5], "color": "#222"}, "encoding": {"x": {"datum": 0}}},
  {"data": {"name": "erp"}, "transform": [{"filter": "datum.p === 'TDR'"}, {"fold": ["fu", "fi", "hu", "hi"], "as": ["s", "v"]}],
   "mark": {"type": "line", "strokeWidth": 1.2, "interpolate": "monotone"},
   "encoding": {
    "x": {"field": "t", "type": "quantitative", "scale": {"domain": [-100, 500]}, "axis": {"values": [0, 200, 400], "title": null}},
    "y": {"field": "v", "type": "quantitative", "scale": {"domain": [-5, 20]}, "axis": {"values": [0, 10, 20], "title": "Amplitude, μV", "titlePadding": 14}},
    "color": {"field": "s", "type": "nominal", "scale": {"domain": ["fu", "fi", "hu", "hi"], "range": ["#0000ff", "#ff0000", "#000000", "#00ff00"]}, "legend": null}}},
  {"data": {"values": [{}]}, "mark": {"type": "text", "text": ["face", "inversion", "effect"], "lineHeight": 19}, "encoding": {"x": {"datum": -17}, "y": {"datum": 16.8}}},
  {"data": {"values": [{}]}, "mark": {"type": "text", "text": "{", "fontSize": 18}, "encoding": {"x": {"datum": 79}, "y": {"datum": 12.6}}},
  {"data": {"values": [{}]}, "mark": {"type": "text", "text": "P1"}, "encoding": {"x": {"datum": 129}, "y": {"datum": 16.1}}},
  {"data": {"values": [{}]}, "mark": {"type": "text", "text": "P2"}, "encoding": {"x": {"datum": 323}, "y": {"datum": 16.6}}},
  {"data": {"values": [{}]}, "mark": {"type": "text", "text": "O2"}, "encoding": {"x": {"datum": -54}, "y": {"datum": 3.2}}}
 ]},
{"width": 1, "height": 47, "data": {"values": [{}]}, "mark": {"type": "text", "text": ""}, "view": {"stroke": null}},
{"width": 1, "height": 47, "data": {"values": [{}]}, "mark": {"type": "text", "text": ""}, "view": {"stroke": null}},
{"width": 258, "height": 124,
 "layer": [
  {"data": {"values": [{}]}, "mark": {"type": "rule", "strokeDash": [1.5, 3.5], "color": "#222"}, "encoding": {"x": {"datum": 0}}},
  {"data": {"values": [{}]}, "mark": {"type": "rule", "strokeDash": [7, 4], "color": "#333"}, "encoding": {"x": {"datum": 158}, "y": {"datum": 10.2}, "y2": {"datum": -15}}},
  {"data": {"name": "erp"}, "transform": [{"filter": "datum.p === 'UFL'"}, {"fold": ["fu", "fi", "hu", "hi"], "as": ["s", "v"]}],
   "mark": {"type": "line", "strokeWidth": 1.2, "interpolate": "monotone"},
   "encoding": {
    "x": {"field": "t", "type": "quantitative", "scale": {"domain": [-100, 500]}, "axis": {"values": [0, 200, 400], "title": "time, ms", "titleX": 140}},
    "y": {"field": "v", "type": "quantitative", "scale": {"domain": [-15, 10]}, "axis": {"values": [-10, 0, 10], "title": "Amplitude, μV", "titlePadding": 10.6}},
    "color": {"field": "s", "type": "nominal", "scale": {"domain": ["fu", "fi", "hu", "hi"], "range": ["#0000ff", "#ff0000", "#000000", "#00ff00"]}, "legend": null}}},
  {"data": {"values": [{}]}, "mark": {"type": "text", "text": "UF", "align": "left", "fontSize": 17}, "encoding": {"x": {"datum": -332}, "y": {"datum": -0.7}}},
  {"data": {"values": [{}]}, "mark": {"type": "text", "text": "P8"}, "encoding": {"x": {"datum": -56}, "y": {"datum": 3.9}}},
  {"data": {"values": [{}]}, "mark": {"type": "text", "text": "N170"}, "encoding": {"x": {"datum": 90}, "y": {"datum": -12.2}}},
  {"data": {"values": [{}]}, "mark": {"type": "text", "text": "}", "fontSize": 20}, "encoding": {"x": {"datum": 209}, "y": {"datum": -10}}},
  {"data": {"values": [{}]}, "mark": {"type": "text", "text": ["face", "inversion", "effect"], "lineHeight": 19}, "encoding": {"x": {"datum": 296}, "y": {"datum": -4.1}}},
  {"data": {"values": [{}]}, "mark": {"type": "rule", "color": "#0000ff", "strokeWidth": 1.2}, "encoding": {"x": {"datum": 258}, "x2": {"datum": 386}, "y": {"datum": -33.95}}},
  {"data": {"values": [{}]}, "mark": {"type": "rule", "color": "#ff0000", "strokeWidth": 1.2}, "encoding": {"x": {"datum": 258}, "x2": {"datum": 386}, "y": {"datum": -39.6}}},
  {"data": {"values": [{}]}, "mark": {"type": "rule", "color": "#000000", "strokeWidth": 1.2}, "encoding": {"x": {"datum": 633}, "x2": {"datum": 759}, "y": {"datum": -33.95}}},
  {"data": {"values": [{}]}, "mark": {"type": "rule", "color": "#00ff00", "strokeWidth": 1.2}, "encoding": {"x": {"datum": 633}, "x2": {"datum": 759}, "y": {"datum": -39.6}}},
  {"data": {"values": [{}]}, "mark": {"type": "text", "text": "Face"}, "encoding": {"x": {"datum": 398}, "y": {"datum": -28.7}}},
  {"data": {"values": [{}]}, "mark": {"type": "text", "text": "House"}, "encoding": {"x": {"datum": 772}, "y": {"datum": -28.1}}},
  {"data": {"values": [{}]}, "mark": {"type": "text", "text": "upright", "align": "left"}, "encoding": {"x": {"datum": 428}, "y": {"datum": -33.75}}},
  {"data": {"values": [{}]}, "mark": {"type": "text", "text": "inverted", "align": "left"}, "encoding": {"x": {"datum": 428}, "y": {"datum": -39.4}}},
  {"data": {"values": [{}]}, "mark": {"type": "text", "text": "upright", "align": "left"}, "encoding": {"x": {"datum": 800}, "y": {"datum": -33.75}}},
  {"data": {"values": [{}]}, "mark": {"type": "text", "text": "inverted", "align": "left"}, "encoding": {"x": {"datum": 800}, "y": {"datum": -39.4}}}
 ]},
{"width": 258, "height": 124,
 "layer": [
  {"data": {"values": [{}]}, "mark": {"type": "rule", "strokeDash": [1.5, 3.5], "color": "#222"}, "encoding": {"x": {"datum": 0}}},
  {"data": {"name": "erp"}, "transform": [{"filter": "datum.p === 'UFR'"}, {"fold": ["fu", "fi", "hu", "hi"], "as": ["s", "v"]}],
   "mark": {"type": "line", "strokeWidth": 1.2, "interpolate": "monotone"},
   "encoding": {
    "x": {"field": "t", "type": "quantitative", "scale": {"domain": [-100, 500]}, "axis": {"values": [0, 200, 400], "title": "time, ms", "titleX": 140}},
    "y": {"field": "v", "type": "quantitative", "scale": {"domain": [-15, 10]}, "axis": {"values": [-10, 0, 10], "title": "Amplitude, μV", "titlePadding": 5.7}},
    "color": {"field": "s", "type": "nominal", "scale": {"domain": ["fu", "fi", "hu", "hi"], "range": ["#0000ff", "#ff0000", "#000000", "#00ff00"]}, "legend": null}}},
  {"data": {"values": [{}]}, "mark": {"type": "text", "text": "P1"}, "encoding": {"x": {"datum": 108}, "y": {"datum": 7.0}}},
  {"data": {"values": [{}]}, "mark": {"type": "text", "text": "P2"}, "encoding": {"x": {"datum": 288}, "y": {"datum": 7.5}}},
  {"data": {"values": [{}]}, "mark": {"type": "text", "text": "O2"}, "encoding": {"x": {"datum": -52}, "y": {"datum": -3.5}}}
 ]}
],
"config": {
 "font": "Liberation Sans",
 "view": {"stroke": "#000", "strokeWidth": 1},
 "axis": {"grid": false, "labelFontSize": 16, "titleFontSize": 16, "titleFontWeight": "normal", "labelColor": "#000", "titleColor": "#000", "domainColor": "#000", "tickColor": "#000", "tickSize": -4, "labelFont": "Liberation Sans", "titleFont": "Liberation Sans"},
 "axisX": {"labelPadding": 14, "titlePadding": 5},
 "axisY": {"labelPadding": 6},
 "title": {"font": "Liberation Sans", "fontWeight": "normal", "color": "#000"},
 "text": {"font": "Liberation Sans", "fontSize": 16, "color": "#000"}
}
}
